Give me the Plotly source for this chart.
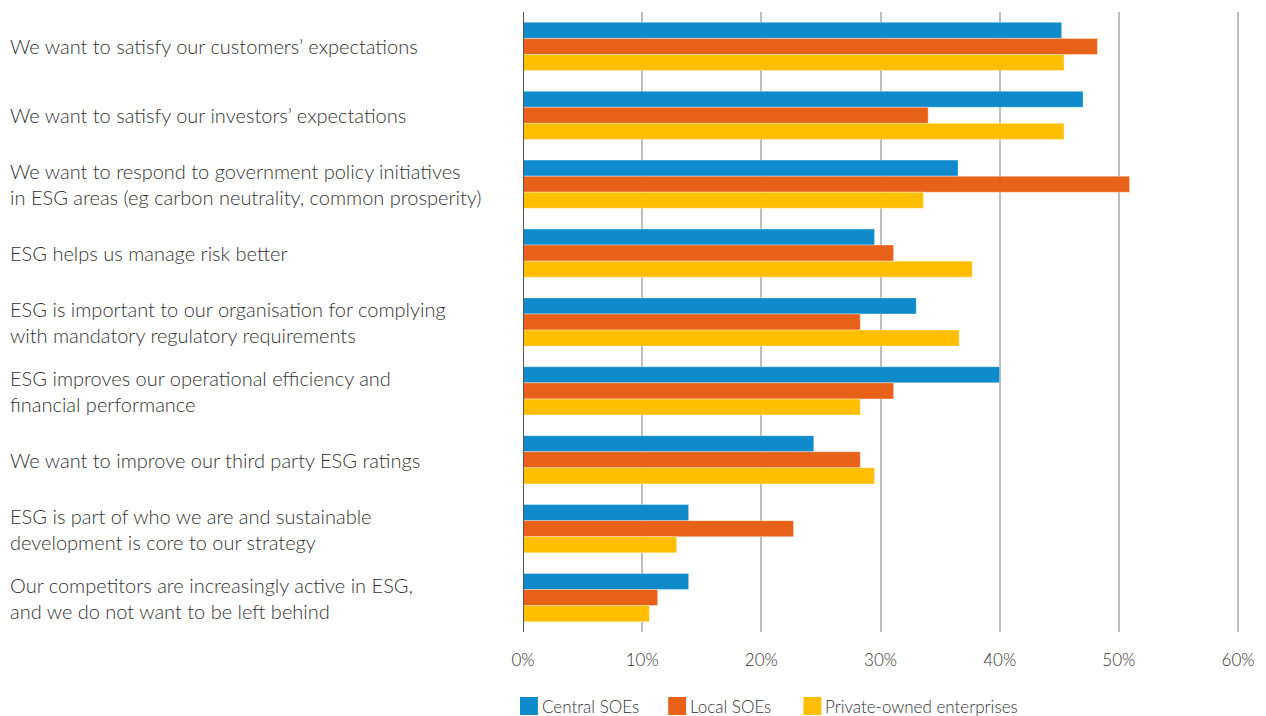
import plotly.graph_objects as go

# Survey reasons for pursuing ESG, by ownership type
reasons = [
    "We want to satisfy our customers’ expectations",
    "We want to satisfy our investors’ expectations",
    "We want to respond to government policy initiatives<br>in ESG areas (eg carbon neutrality, common prosperity)",
    "ESG helps us manage risk better",
    "ESG is important to our organisation for complying<br>with mandatory regulatory requirements",
    "ESG improves our operational efficiency and<br>financial performance",
    "We want to improve our third party ESG ratings",
    "ESG is part of who we are and sustainable<br>development is core to our strategy",
    "Our competitors are increasingly active in ESG,<br>and we do not want to be left behind",
]

central_soes = [0.452, 0.470, 0.365, 0.295, 0.330, 0.400, 0.244, 0.139, 0.139]
local_soes = [0.482, 0.340, 0.509, 0.311, 0.283, 0.311, 0.283, 0.227, 0.113]
private_owned = [0.454, 0.454, 0.336, 0.377, 0.366, 0.283, 0.295, 0.129, 0.106]

series_names = ["Central SOEs", "Local SOEs", "Private-owned enterprises"]
series_values = [central_soes, local_soes, private_owned]
series_colors = ["#0F8ACB", "#E86118", "#FFBE00"]

ticks = [0, 0.1, 0.2, 0.3, 0.4, 0.5, 0.6]
tick_text = ["0%", "10%", "20%", "30%", "40%", "50%", "60%"]

FONT = "Lato"
TEXT = "#333333"

# Canvas and plot-area geometry (pixels)
W, H = 1266, 716
L, R, T, B = 523, 22, 12, 84
plot_w = W - L - R
plot_h = H - T - B
x_max = 0.6 * plot_w / 719  # leaves room so the 60% gridline is drawn


def px_x(px):
    return (px - L) / plot_w


def px_y(py):
    return (H - B - py) / plot_h


fig = go.Figure()
for name, vals, color in zip(series_names, series_values, series_colors):
    fig.add_trace(go.Bar(
        y=list(range(len(reasons))),
        x=vals,
        name=name,
        orientation="h",
        marker=dict(color=color, line=dict(color="rgba(255,255,255,0.35)", width=1)),
        hovertemplate="%{x:.0%}<extra>" + name + "</extra>",
        showlegend=False,
    ))

# Left-aligned category labels
for i, label in enumerate(reasons):
    fig.add_annotation(
        x=px_x(5), xref="paper", xanchor="left",
        y=i, yref="y", yanchor="middle",
        text=label, showarrow=False, align="left",
        font=dict(family=FONT, size=20, color=TEXT, weight=300),
    )

# Legend: square swatches with labels along the bottom
legend_x = [520, 669, 805]
for x0, name, color in zip(legend_x, series_names, series_colors):
    fig.add_shape(type="rect", xref="paper", yref="paper",
                  x0=px_x(x0), x1=px_x(x0 + 18), y0=px_y(715), y1=px_y(697),
                  fillcolor=color, line=dict(width=0))
    fig.add_annotation(
        x=px_x(x0 + 20), xref="paper", xanchor="left",
        y=px_y(706), yref="paper", yanchor="middle",
        text=name, showarrow=False,
        font=dict(family=FONT, size=17, color=TEXT, weight=300),
    )

fig.update_layout(
    width=W, height=H,
    margin=dict(l=L, r=R, t=T, b=B, pad=0),
    paper_bgcolor="white", plot_bgcolor="white",
    barmode="group", bargap=0.30, bargroupgap=0,
    font=dict(family=FONT, size=16, color=TEXT),
    showlegend=False,
    xaxis=dict(
        range=[0, x_max], tickvals=ticks, ticktext=tick_text,
        showgrid=True, gridcolor="#BDBDBD", gridwidth=2,
        zeroline=False, showline=False, ticks="",
        ticklabelstandoff=16,
        tickfont=dict(family=FONT, size=17, color=TEXT, weight=300),
    ),
    yaxis=dict(
        range=[len(reasons) - 0.5, -0.5],
        showticklabels=False, showgrid=False, zeroline=False,
        showline=False, ticks="",
    ),
)

# Value axis baseline at 0%
fig.add_shape(type="line", xref="x", yref="paper", x0=0, x1=0, y0=0, y1=1,
              line=dict(color="#555555", width=2), layer="above")

fig.write_html("out.html")
